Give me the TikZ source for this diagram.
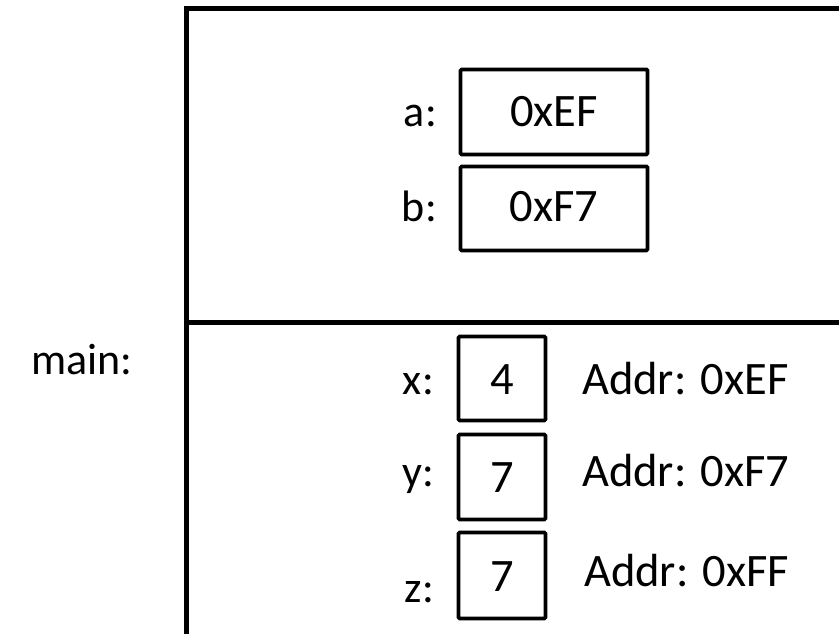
\documentclass[tikz,border=0pt]{standalone}
\usepackage{fontspec}
\setmainfont{Carlito}
\begin{document}
\begin{tikzpicture}[x=1pt,y=1pt,
  frame/.style={line width=5pt, line join=miter, line cap=butt},
  cell/.style={draw, line width=3.8pt, rounded corners=1.2pt, inner sep=0pt},
  txt/.style={inner sep=0pt, font=\fontsize{44}{52}\selectfont},
  big/.style={inner sep=0pt, font=\fontsize{46.5}{54}\selectfont},
  lbl/.style={txt, anchor=base east},
  val/.style={big, anchor=base},
  addr/.style={big, anchor=base west}]
\useasboundingbox (0,0) rectangle (839,634);
% frame
\coordinate (tr) at (839,625);
\coordinate (tl) at (186,625);
\coordinate (bl) at (186,0);
\coordinate (dl) at (186,311);
\coordinate (dr) at (839,311);
\draw[frame] (tr) -- (tl) -- (bl);
\draw[frame] (dl) -- (dr);
% boxes
\node[cell, minimum width=187pt, minimum height=85pt] (boxa) at (554,522) {};
\node[cell, minimum width=187pt, minimum height=84pt] (boxb) at (554,425.5) {};
\node[cell, minimum width=87pt, minimum height=84pt] (boxx) at (502,255.5) {};
\node[cell, minimum width=87pt, minimum height=85pt] (boxy) at (502,157) {};
\node[cell, minimum width=87pt, minimum height=86pt] (boxz) at (502,58.5) {};
% labels
\node[txt, anchor=base west] (main) at (31,259) {main:};
\node[lbl] (la) at (437,507) {a:};
\node[val] (va) at (554,507) {0xEF};
\node[lbl] (lb) at (437,412) {b:};
\node[val] (vb) at (554,412) {0xF7};
\node[lbl] (lx) at (434,239) {x:};
\node[val] (vx) at (502,239) {4};
\node[addr] (ax) at (582,239) {Addr: 0xEF};
\node[lbl] (ly) at (434,147) {y:};
\node[val] (vy) at (502,141) {7};
\node[addr] (ay) at (582,147) {Addr: 0xF7};
\node[lbl] (lz) at (434,31) {z:};
\node[val] (vz) at (502,42) {7};
\node[addr] (az) at (584,47) {Addr: 0xFF};
\end{tikzpicture}
\end{document}
